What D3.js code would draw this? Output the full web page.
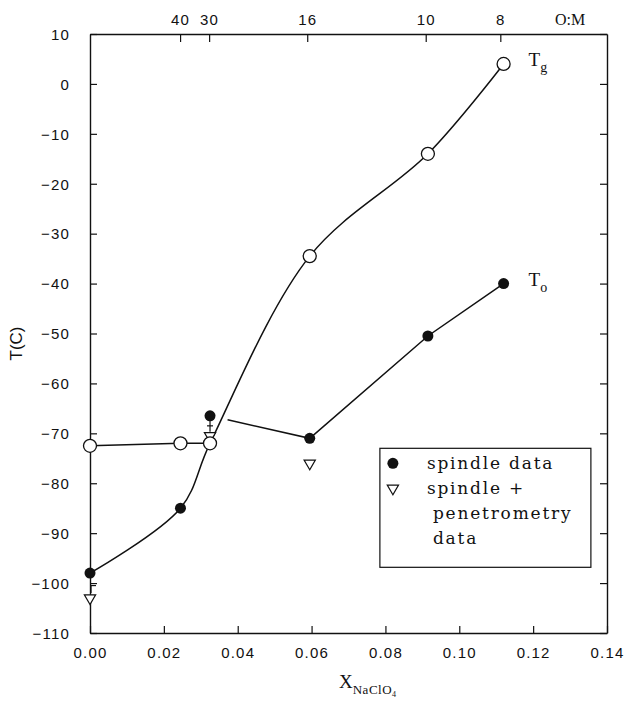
<!DOCTYPE html>
<html>
<head>
<meta charset="utf-8">
<script src="https://cdn.jsdelivr.net/npm/d3@7"></script>
<style>
  body { margin: 0; background: #fff; }
  svg text { fill: #111; }
</style>
</head>
<body>
<div id="chart"></div>
<script>
// glass transition (open circles) and onset (filled) temperatures vs. salt mole fraction
const tgX = [0.000, 0.0245, 0.0325, 0.0595, 0.0915, 0.112];
const tgY = [-72.5, -72, -72, -34.5, -14, 4];
const toX = [0.000, 0.0245, 0.0325, 0.0595, 0.0915, 0.112];
const toY = [-98, -85, -66.5, -71, -50.5, -40];
const triX = [0.000, 0.0325, 0.0595];
const triY = [-103, -70.5, -76];
// top axis: O:M ratio, placed at X = 1/(n+1)
const topRatios = [40, 30, 16, 10, 8];
const xTicks = [0, 0.02, 0.04, 0.06, 0.08, 0.10, 0.12, 0.14];
const yTicks = [10, 0, -10, -20, -30, -40, -50, -60, -70, -80, -90, -100, -110];
const legendLabels = [["spindle data"], ["spindle +", "penetrometry", "data"]];

const W = 627, H = 702;
const margin = { top: 34, right: 20, bottom: 69, left: 90 },
    width = W - margin.left - margin.right,
    height = H - margin.top - margin.bottom;

const svg = d3.select("#chart").append("svg")
    .attr("width", W).attr("height", H);
const g = svg.append("g")
    .attr("transform", `translate(${margin.left},${margin.top})`);

const x = d3.scaleLinear().domain([0, 0.14]).range([0, width]);
const y = d3.scaleLinear().domain([-110, 10]).range([height, 0]);

const sans = "'Liberation Sans', Arial, sans-serif";
const serif = "'Liberation Serif', 'Times New Roman', serif";
const fmtY = d => d < 0 ? "\u2212" + Math.abs(d) : String(d);

// axes (ticks inward)
const axB = g.append("g").attr("transform", `translate(0,${height})`)
    .call(d3.axisBottom(x).tickValues(xTicks).tickSizeInner(-7).tickSizeOuter(0)
        .tickPadding(14).tickFormat(d3.format(".2f")));
const axL = g.append("g")
    .call(d3.axisLeft(y).tickValues(yTicks).tickSizeInner(-7).tickSizeOuter(0)
        .tickPadding(20).tickFormat(fmtY));
const axR = g.append("g").attr("transform", `translate(${width},0)`)
    .call(d3.axisRight(y).tickValues(yTicks).tickSizeInner(-7).tickSizeOuter(0).tickFormat(""));
const axT = g.append("g")
    .call(d3.axisTop(x).tickValues(topRatios.map(n => 1 / (n + 1))).tickSizeInner(-8).tickSizeOuter(0)
        .tickPadding(9).tickFormat((d, i) => topRatios[i]));

[axB, axL, axR, axT].forEach(a => {
    a.selectAll("path.domain").attr("stroke", "#111").attr("stroke-width", 1.4);
    a.selectAll(".tick line").attr("stroke", "#111").attr("stroke-width", 1.2);
    a.selectAll("text").style("font-family", sans).style("font-size", "15px")
        .attr("fill", "#111").style("letter-spacing", "1.2px");
});
axL.selectAll("text").attr("dy", "0.35em");

g.append("text").attr("x", x(0.13)).attr("y", -9)
    .attr("text-anchor", "middle").style("font-family", serif).style("font-size", "16px")
    .text("O:M");

// axis titles
svg.append("text")
    .attr("transform", `translate(22,${margin.top + y(-52)}) rotate(-90)`)
    .attr("text-anchor", "middle")
    .style("font-family", sans).style("font-size", "17px")
    .text("T(C)");

const xt = svg.append("text")
    .attr("x", 339).attr("y", 688)
    .style("font-family", serif).style("font-size", "19px");
xt.append("tspan").text("X");
xt.append("tspan").attr("dy", 6).style("font-size", "13px").style("letter-spacing", "0.5px").text("NaClO");
xt.append("tspan").attr("dy", 3).style("font-size", "8px").text("4");

// curves
const line = d3.line().x(d => x(d[0])).y(d => y(d[1]));
const pts = (xs, ys) => xs.map((v, i) => [v, ys[i]]);
const tg = pts(tgX, tgY), to = pts(toX, toY);

// flat Tg branch at low X
g.append("path").datum(tg.slice(0, 3))
    .attr("d", line).attr("fill", "none").attr("stroke", "#111").attr("stroke-width", 1.5);

// S-shaped curve: onset points at low X joining the Tg points at high X
const smooth = d3.line().x(d => x(d[0])).y(d => y(d[1])).curve(d3.curveCatmullRom.alpha(0.5));
g.append("path").datum(to.slice(0, 2).concat(tg.slice(2)))
    .attr("d", smooth).attr("fill", "none")
    .attr("stroke", "#111").attr("stroke-width", 1.5);

// onset branch at high X (starts a little past the point)
const seg = g.append("path").datum(to.slice(2))
    .attr("d", line).attr("fill", "none").attr("stroke", "#111").attr("stroke-width", 1.5);
const L = seg.node().getTotalLength();
seg.attr("stroke-dasharray", `0,18,${L}`);

// error bars
const eb = g.append("g").attr("stroke", "#111").attr("stroke-width", 1.2);
eb.append("line").attr("x1", x(0) + 1).attr("x2", x(0) + 1)
    .attr("y1", y(triY[0]) - 5).attr("y2", y(-100.5));
eb.append("line").attr("x1", x(0) + 1).attr("x2", x(0) + 6)
    .attr("y1", y(-100.5)).attr("y2", y(-100.5));
eb.append("line").attr("x1", x(triX[1])).attr("x2", x(triX[1]))
    .attr("y1", y(toY[2]) + 5).attr("y2", y(triY[1]) - 4);
eb.append("line").attr("x1", x(triX[1]) - 3).attr("x2", x(triX[1]) + 3)
    .attr("y1", y(-68.5)).attr("y2", y(-68.5));

// markers
const tri = d3.symbol().type(d3.symbolTriangle).size(55);
g.selectAll(".tri").data(pts(triX, triY)).enter().append("path")
    .attr("transform", d => `translate(${x(d[0])},${y(d[1])}) rotate(180)`)
    .attr("d", tri).attr("fill", "#fff").attr("stroke", "#111").attr("stroke-width", 1.2);
g.selectAll(".tgc").data(tg).enter().append("circle")
    .attr("cx", d => x(d[0])).attr("cy", d => y(d[1])).attr("r", 6.5)
    .attr("fill", "#fff").attr("stroke", "#111").attr("stroke-width", 1.3);
g.selectAll(".toc").data(to).enter().append("circle")
    .attr("cx", d => x(d[0])).attr("cy", d => y(d[1])).attr("r", 5.5)
    .attr("fill", "#111");

// curve labels
function subLabel(px, py, main, sub) {
    const t = g.append("text").attr("x", px).attr("y", py)
        .style("font-family", serif).style("font-size", "19px");
    t.append("tspan").text(main);
    t.append("tspan").attr("dy", 6).style("font-size", "14px").text(sub);
}
subLabel(x(tgX[5]) + 25, y(tgY[5]) + 2, "T", "g");
subLabel(x(toX[5]) + 25, y(toY[5]) + 2, "T", "o");

// legend
const lg = g.append("g").attr("transform", `translate(${x(0.0785)},${y(-73)})`);
lg.append("rect").attr("width", 211).attr("height", 119)
    .attr("fill", "#fff").attr("stroke", "#111").attr("stroke-width", 1.2);
lg.append("circle").attr("cx", 13).attr("cy", 15).attr("r", 5.5).attr("fill", "#111");
lg.append("path").attr("transform", "translate(13,40) rotate(180)")
    .attr("d", tri).attr("fill", "#fff").attr("stroke", "#111").attr("stroke-width", 1.2);
const rows = [legendLabels[0][0]].concat(legendLabels[1]);
const rowX = [47, 47, 53, 53];
rows.forEach((s, i) => {
    lg.append("text").attr("x", rowX[i]).attr("y", 21 + i * 25)
        .style("font-family", "'DejaVu Serif', serif").style("font-size", "17px")
        .style("letter-spacing", "1.8px").text(s);
});
</script>
</body>
</html>
